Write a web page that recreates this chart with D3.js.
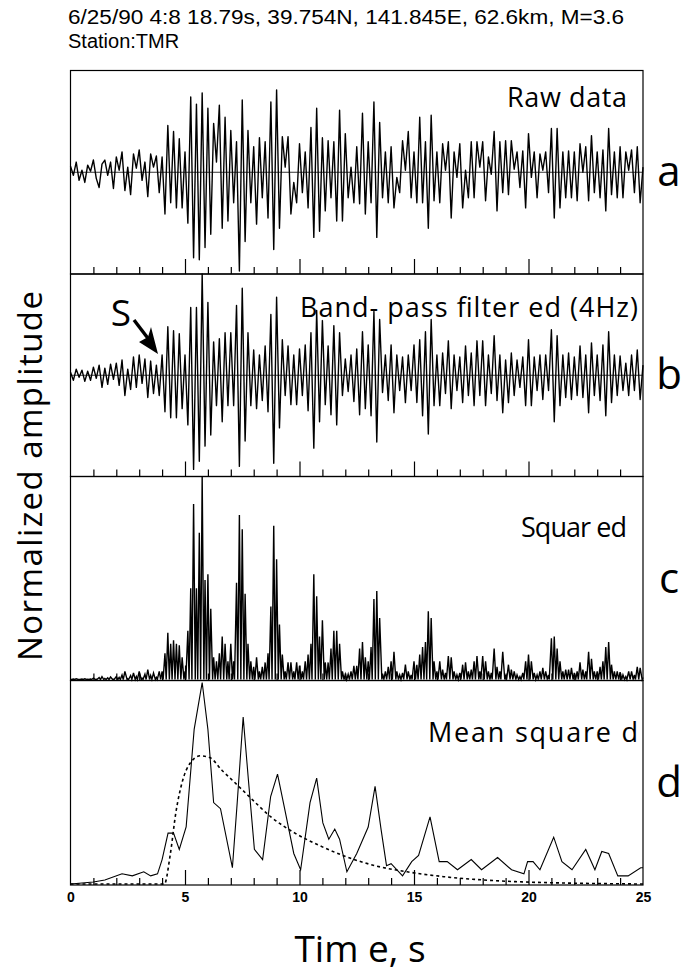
<!DOCTYPE html>
<html>
<head>
<meta charset="utf-8">
<script src="https://cdn.jsdelivr.net/npm/d3@7"></script>
<style>
  body { margin: 0; background: #fff; }
</style>
</head>
<body>
<svg id="chart" width="690" height="976"></svg>
<script>
// samples every 0.125 s (normalized to half panel height)
const dt = 0.125;

const rawData = [
  0.06,-0.03,0.1,-0.08,0.02,-0.1,0.07,0.01,
  0.12,-0.06,-0.15,0.08,0.12,-0.03,0.1,-0.16,
  0.15,0.02,0.2,-0.18,0.05,-0.22,0.18,0.04,
  0.22,-0.08,0.1,-0.24,0.18,0.05,0.16,-0.2,
  0.15,-0.41,0.46,-0.3,0.4,-0.35,0.33,-0.35,
  0.2,-0.5,0.74,-0.84,0.67,-0.86,0.78,-0.74,
  0.63,-0.61,0.48,0.1,0.66,-0.55,0.54,-0.48,
  0.41,-0.3,0.3,-0.97,0.71,-0.68,0.41,-0.3,
  0.25,-0.51,0.34,-0.25,0.3,-0.45,0.69,-0.76,
  0.81,-0.55,0.35,0.05,0.35,-0.41,-0.1,-0.3,
  0.28,-0.2,0.2,-0.35,0.44,-0.64,0.63,-0.58,
  0.34,-0.38,0.31,-0.25,0.3,-0.48,0.61,-0.48,
  0.38,-0.25,0.05,-0.3,0.25,-0.31,0.58,-0.41,
  0.3,-0.3,0.69,-0.64,0.49,-0.25,0.2,-0.3,
  0.25,-0.35,-0.05,-0.2,0.31,0.02,0.4,-0.25,
  0.2,-0.3,0.54,-0.3,0.3,-0.55,0.56,-0.28,
  0.2,-0.3,0.28,0.02,0.3,-0.45,0.2,-0.05,
  0.28,-0.35,0.02,-0.25,0.3,-0.25,0.3,0.05,
  0.3,-0.28,0.15,-0.02,0.4,-0.38,0.3,-0.2,
  0.31,-0.22,0.31,0.03,0.2,-0.15,0.21,-0.35,
  0.38,-0.05,0.2,-0.25,0.18,0.02,0.2,-0.2,
  0.43,-0.45,0.43,-0.35,0.2,-0.25,0.21,-0.25,
  0.2,-0.28,0.28,0.0,0.25,-0.28,0.36,-0.2,
  0.2,-0.25,0.22,-0.38,0.43,-0.22,0.2,-0.25,
  0.25,-0.25,0.2,0.02,0.22,-0.2,0.25,-0.3,
  0.05
];

const bandPass = [
  0.03,-0.05,0.06,-0.02,0.05,-0.06,0.04,-0.05,
  0.08,-0.03,0.1,-0.12,0.07,-0.09,0.11,-0.04,
  0.12,-0.1,0.15,-0.2,0.06,-0.14,0.18,-0.12,
  0.2,-0.08,0.16,-0.22,0.14,-0.18,0.1,-0.2,
  0.2,-0.36,0.48,-0.42,0.44,-0.42,0.41,-0.33,
  0.2,-0.49,0.67,-0.93,0.67,-0.85,1.0,-0.7,
  0.72,-0.59,0.33,-0.3,0.36,-0.46,0.42,-0.3,
  0.42,-0.3,0.69,-0.9,0.86,-0.65,0.42,-0.3,
  0.25,-0.33,0.2,-0.25,0.29,-0.36,0.6,-0.87,
  0.77,-0.52,0.35,-0.2,0.29,-0.29,0.2,-0.29,
  0.26,-0.2,0.3,-0.35,0.42,-0.72,0.64,-0.46,
  0.54,-0.29,0.29,-0.39,0.49,-0.49,0.42,-0.2,
  0.16,-0.16,0.2,-0.26,0.26,-0.39,0.43,-0.33,
  0.3,-0.4,0.63,-0.66,0.55,-0.17,0.2,-0.25,
  0.3,-0.37,0.2,-0.15,0.18,-0.27,0.2,-0.15,
  0.3,-0.27,0.35,-0.4,0.43,-0.58,0.55,-0.3,
  0.2,-0.3,0.22,-0.18,0.34,-0.33,0.2,-0.15,
  0.18,-0.27,0.29,-0.2,0.22,-0.3,0.34,-0.2,
  0.34,-0.3,0.2,-0.18,0.39,-0.25,0.2,-0.37,
  0.15,-0.27,0.22,-0.2,0.15,-0.12,0.18,-0.3,
  0.35,-0.3,0.18,-0.15,0.2,-0.24,0.2,-0.15,
  0.45,-0.46,0.39,-0.3,0.2,-0.22,0.22,-0.24,
  0.18,-0.2,0.29,-0.22,0.2,-0.37,0.32,-0.2,
  0.2,-0.25,0.3,-0.4,0.43,-0.27,0.2,-0.2,
  0.19,-0.15,0.12,-0.2,0.2,-0.15,0.25,-0.24,
  0.1
];

// mean squared envelope (solid) and its fit (dashed), fraction of panel height
const meanTime = [0,1.0,1.5,2.25,2.7,3.2,3.5,3.8,4.0,4.26,4.5,4.75,5.05,5.4,5.75,6.0,6.25,6.55,7.07,7.28,
  7.54,7.77,8.03,8.39,8.74,9.04,9.35,9.75,10.05,10.46,10.75,11.02,11.28,11.54,11.75,12.07,12.5,13.0,13.3,13.56,
  13.8,14.0,14.5,14.9,15.2,15.7,16.1,16.45,16.9,17.5,17.95,18.65,19.26,19.8,19.96,20.2,20.5,21.1,21.46,21.9,
  22.5,22.9,23.2,23.5,23.9,24.35,24.9,25];
const meanValue = [0.0,0.01,0.02,0.05,0.04,0.06,0.04,0.05,0.12,0.25,0.25,0.17,0.28,0.76,0.99,0.76,0.40,0.37,0.08,0.40,
  0.82,0.51,0.17,0.12,0.43,0.54,0.37,0.15,0.07,0.40,0.52,0.30,0.22,0.27,0.22,0.06,0.15,0.28,0.48,0.27,
  0.09,0.10,0.04,0.11,0.14,0.33,0.11,0.11,0.07,0.12,0.07,0.13,0.07,0.05,0.11,0.11,0.07,0.23,0.11,0.07,
  0.17,0.07,0.16,0.15,0.04,0.04,0.08,0.08];

const fitTime = [0,4.1,4.35,4.6,4.9,5.2,5.67,6.1,6.6,7.16,7.8,8.75,9.8,10.85,11.9,13.3,14.7,16.3,18.0,19.8,21.5,25];
const fitValue = [0,0,0.14,0.35,0.51,0.59,0.63,0.62,0.56,0.50,0.43,0.33,0.25,0.19,0.14,0.09,0.06,0.036,0.02,0.01,0.005,0];

const timeLabels = [0, 5, 10, 15, 20, 25];
const panelLetters = ['a', 'b', 'c', 'd'];
const panelTitles = ['Raw data', 'Band- pass filter ed (4Hz)', 'Squar ed', 'Mean square d'];

const svg = d3.select('#chart');
const left = 70.5, right = 643;
const edges = [70.5, 274, 476.5, 680.5, 885];

const x = d3.scaleLinear().domain([0, 25]).range([left, right]);

const panels = panelLetters.map((l, i) => ({ letter: l, title: panelTitles[i], top: edges[i], bottom: edges[i + 1] }));

const sumFont = '"Open Sans", "Lato", sans-serif';
const helv = '"Liberation Sans", Arial, sans-serif';

// waveform panels a, b
function wavePanel(p, values) {
  const y = d3.scaleLinear().domain([-1, 1]).range([p.bottom, p.top]);
  svg.append('line')
    .attr('x1', left).attr('x2', right)
    .attr('y1', y(0)).attr('y2', y(0))
    .attr('stroke', '#000').attr('stroke-width', 0.8);
  svg.append('path')
    .datum(values)
    .attr('fill', 'none')
    .attr('stroke', '#000')
    .attr('stroke-width', 1.4)
    .attr('stroke-linejoin', 'round')
    .attr('d', d3.line().x((d, i) => x(i * dt)).y(d => y(d)));
}
wavePanel(panels[0], rawData);
wavePanel(panels[1], bandPass);

// squared panel c, from the band-pass trace
const cPts = [];
bandPass.forEach((v, i) => {
  if (i > 0) {
    const p = bandPass[i - 1];
    if (p * v < 0) cPts.push([(i - 1) * dt + dt * Math.abs(p) / (Math.abs(p) + Math.abs(v)), 0]);
  }
  cPts.push([i * dt, v * v]);
});
const yc = d3.scaleLinear().domain([0, 1]).range([panels[2].bottom - 1, panels[2].top]);
svg.append('path')
  .datum(cPts)
  .attr('fill', 'none')
  .attr('stroke', '#000')
  .attr('stroke-width', 1.4)
  .attr('d', d3.line().x(d => x(d[0])).y(d => yc(d[1])));

// mean squared panel d
const yd = d3.scaleLinear().domain([0, 1]).range([panels[3].bottom - 1, panels[3].top]);
svg.append('path')
  .datum(meanTime.map((t, i) => [t, meanValue[i]]))
  .attr('fill', 'none')
  .attr('stroke', '#000')
  .attr('stroke-width', 1.1)
  .attr('d', d3.line().x(d => x(d[0])).y(d => yd(d[1])));
svg.append('path')
  .datum(fitTime.map((t, i) => [t, fitValue[i]]))
  .attr('fill', 'none')
  .attr('stroke', '#000')
  .attr('stroke-width', 1.6)
  .attr('stroke-dasharray', '3,3')
  .attr('d', d3.line().x(d => x(d[0])).y(d => yd(d[1])).curve(d3.curveMonotoneX));

// frames, ticks, labels
const titleX = [627, 638, 627, 638];
const titleDy = [36, 43, 60, 61];
const titleW = [120, 338, 106, 210];
panels.forEach((p, i) => {
  svg.append('rect')
    .attr('x', left).attr('y', p.top)
    .attr('width', right - left).attr('height', p.bottom - p.top)
    .attr('fill', 'none').attr('stroke', '#000').attr('stroke-width', 1.2);

  const minor = svg.append('g').attr('transform', `translate(0,${p.bottom})`)
    .call(d3.axisBottom(x).tickValues(d3.range(1, 25).filter(v => v % 5 !== 0)).tickSize(-7).tickFormat(''));
  const major = svg.append('g').attr('transform', `translate(0,${p.bottom})`)
    .call(d3.axisBottom(x).tickValues([5, 10, 15, 20]).tickSize(-15).tickFormat(''));
  [minor, major].forEach(g => {
    g.select('.domain').remove();
    g.selectAll('line').attr('stroke', '#000').attr('stroke-width', 1.2);
  });

  svg.append('text')
    .attr('x', titleX[i] - titleW[i])
    .attr('y', p.top + titleDy[i])
    .attr('font-family', sumFont)
    .attr('font-size', 27)
    .attr('textLength', titleW[i])
    .attr('lengthAdjust', 'spacing')
    .text(p.title);

  svg.append('text')
    .attr('x', 669)
    .attr('y', (p.top + p.bottom) / 2 + 14)
    .attr('text-anchor', 'middle')
    .attr('font-family', sumFont)
    .attr('font-size', 42)
    .text(p.letter);
});

// bottom time labels
const bottomAxis = svg.append('g').attr('transform', `translate(0,${edges[4]})`)
  .call(d3.axisBottom(x).tickValues(timeLabels).tickSize(0).tickPadding(7));
bottomAxis.select('.domain').remove();
bottomAxis.selectAll('text')
  .attr('font-family', helv)
  .attr('font-size', 14)
  .attr('font-weight', 'bold')
  .attr('fill', '#000');

// S arrow
svg.append('text')
  .attr('x', 121).attr('y', 326)
  .attr('text-anchor', 'middle')
  .attr('font-family', sumFont)
  .attr('font-size', 37)
  .text('S');
svg.append('line')
  .attr('x1', 134).attr('y1', 320).attr('x2', 150).attr('y2', 341)
  .attr('stroke', '#000').attr('stroke-width', 3.4);
svg.append('path')
  .attr('d', 'M158,354 L139,342 L148,337 L151,327 Z')
  .attr('fill', '#000');

// header
svg.append('text')
  .attr('x', 68).attr('y', 24)
  .attr('font-family', helv)
  .attr('font-size', 20)
  .attr('textLength', 556)
  .attr('lengthAdjust', 'spacingAndGlyphs')
  .text('6/25/90 4:8 18.79s, 39.754N, 141.845E, 62.6km, M=3.6');
svg.append('text')
  .attr('x', 68).attr('y', 48)
  .attr('font-family', helv)
  .attr('font-size', 20)
  .text('Station:TMR');

// axis titles
svg.append('text')
  .attr('transform', 'translate(42,476) rotate(-90)')
  .attr('text-anchor', 'middle')
  .attr('font-family', sumFont)
  .attr('font-size', 33)
  .attr('textLength', 370)
  .attr('lengthAdjust', 'spacing')
  .text('Normalized amplitude');
svg.append('text')
  .attr('x', 360).attr('y', 962)
  .attr('text-anchor', 'middle')
  .attr('font-family', sumFont)
  .attr('font-size', 37)
  .text('Tim e, s');
</script>
</body>
</html>
